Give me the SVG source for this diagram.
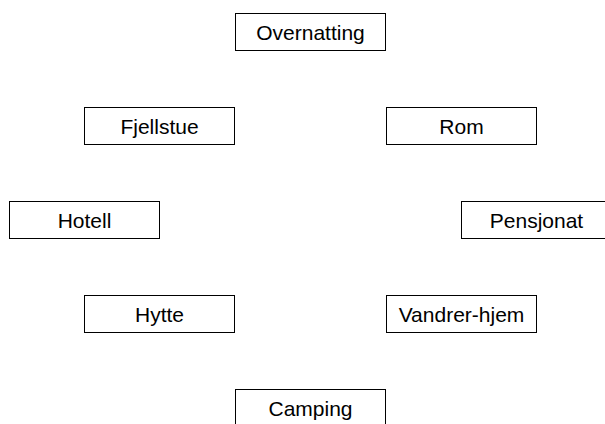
<svg xmlns="http://www.w3.org/2000/svg" width="605" height="424" viewBox="0 0 605 424">
<style>
.box{fill:#fff;stroke:#000;stroke-width:1}
.lbl{font-family:"Liberation Sans",Arial,sans-serif;font-size:21px;fill:#000;text-anchor:middle}
</style>
<rect width="605" height="424" fill="#fff"/>
<g id="connectors"/>
<g id="overnatting"><rect class="box" x="235.5" y="13.5" width="150" height="37"/><text class="lbl" x="310.5" y="39.5">Overnatting</text></g>
<g id="fjellstue"><rect class="box" x="84.5" y="107.5" width="150" height="37"/><text class="lbl" x="159.5" y="133.5">Fjellstue</text></g>
<g id="rom"><rect class="box" x="386.5" y="107.5" width="150" height="37"/><text class="lbl" x="461.5" y="133.5">Rom</text></g>
<g id="hotell"><rect class="box" x="9.5" y="201.5" width="150" height="37"/><text class="lbl" x="84.5" y="227.5">Hotell</text></g>
<g id="pensjonat"><rect class="box" x="461.5" y="201.5" width="150" height="37"/><text class="lbl" x="536.5" y="227.5">Pensjonat</text></g>
<g id="hytte"><rect class="box" x="84.5" y="295.5" width="150" height="37"/><text class="lbl" x="159.5" y="321.5">Hytte</text></g>
<g id="vandrer-hjem"><rect class="box" x="386.5" y="295.5" width="150" height="37"/><text class="lbl" x="461.5" y="321.5">Vandrer-hjem</text></g>
<g id="camping"><rect class="box" x="235.5" y="389.5" width="150" height="37"/><text class="lbl" x="310.5" y="415.5">Camping</text></g>
</svg>
